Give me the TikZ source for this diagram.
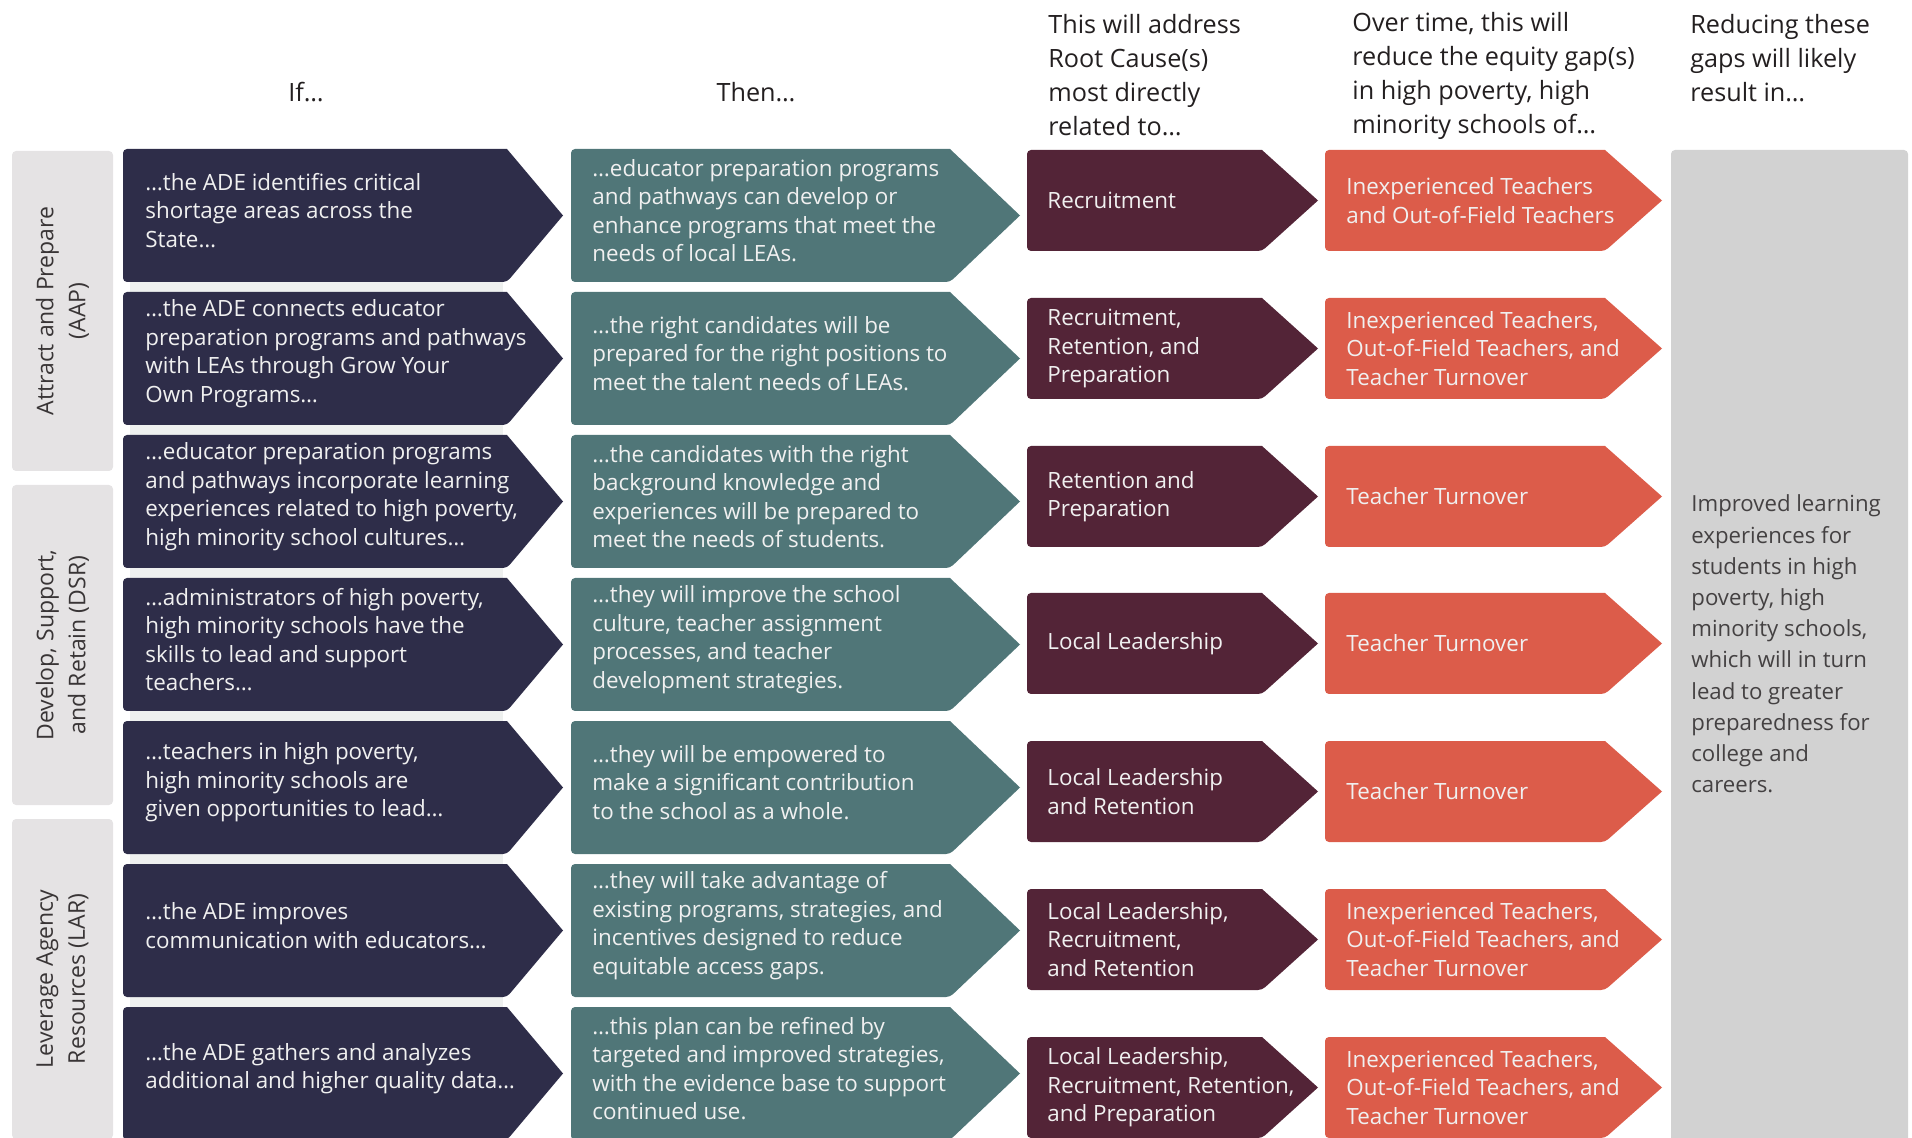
\documentclass[tikz,border=0pt]{standalone}
\usepackage{fontspec}
\setmainfont{Open Sans}
\usepackage{tikz}
\usetikzlibrary{positioning}
\definecolor{ifcolor}{RGB}{46,45,73}
\definecolor{thencolor}{RGB}{80,118,120}
\definecolor{rootcolor}{RGB}{83,36,55}
\definecolor{gapcolor}{RGB}{220,92,74}
\definecolor{resultcolor}{RGB}{210,210,210}
\definecolor{sidecolor}{RGB}{229,227,228}
\definecolor{stripcolor}{RGB}{238,240,239}
\definecolor{inkcolor}{RGB}{35,31,32}
\definecolor{boxink}{RGB}{240,240,240}

% name, colour, left, top, right, height, tip
\newcommand{\chevbox}[7]{%
  \fill[#2, rounded corners=2pt] (#5,#4) -- (#3,#4) -- (#3,#4+#6) -- (#5,#4+#6) [sharp corners] -- (#5+#7,#4+#6/2) -- cycle;
  \coordinate (#1) at (#3,#4+#6/2);}

\begin{document}
\begin{tikzpicture}[x=0.5pt,y=-0.5pt]
\tikzset{
  boxtext/.style={text=boxink, align=left, inner sep=0pt, font=\fontsize{11.2}{14.25}\selectfont},
  headtext/.style={text=inkcolor, align=left, inner sep=0pt, font=\fontsize{12.6}{17.15}\selectfont},
  side box/.style={fill=sidecolor, rounded corners=2pt, rotate=90, minimum width=160pt, minimum height=50.5pt, align=center, text=inkcolor!90, font=\fontsize{11.5}{16}\selectfont}
}
\useasboundingbox (0,0) rectangle (1912,1138);

% Headers (base = last line)
\node [headtext, anchor=base] (hif) at (306,102) {If…};
\node [headtext, anchor=base] (hthen) at (756,102) {Then…};
\node [headtext, anchor=base west] (hroot) at (1048,136) {This will address\\Root Cause(s)\\most directly\\related to…};
\node [headtext, anchor=base west] (hgap) at (1352,134) {Over time, this will\\reduce the equity gap(s)\\in high poverty, high\\minority schools of…};
\node [headtext, anchor=base west] (hresult) at (1690,102) {Reducing these\\gaps will likely\\result in…};

% Side groups
\node [side box] (aap) at (62.5,311) {Attract and Prepare\\(AAP)};
\node [side box] (dsr) at (62.5,645) {Develop, Support,\\and Retain (DSR)};
\node [side box] (lar) at (62.5,979) {Leverage Agency\\Resources (LAR)};

% Strip behind the If column
\fill [stripcolor] (130,155) rectangle (503,1138);

% If
\chevbox{if1}{ifcolor}{123}{149}{507}{133}{56}
\chevbox{if2}{ifcolor}{123}{292}{507}{133}{56}
\chevbox{if3}{ifcolor}{123}{435}{507}{133}{56}
\chevbox{if4}{ifcolor}{123}{578}{507}{133}{56}
\chevbox{if5}{ifcolor}{123}{721}{507}{133}{56}
\chevbox{if6}{ifcolor}{123}{864}{507}{133}{56}
\chevbox{if7}{ifcolor}{123}{1007}{507}{133}{56}
\node [boxtext, right=11pt of if1, yshift=2.5pt] (if1t) {…the ADE identifies critical\\shortage areas across the\\State…};
\node [boxtext, right=11pt of if2, yshift=2.5pt] (if2t) {…the ADE connects educator\\preparation programs and pathways\\with LEAs through Grow Your\\Own Programs…};
\node [boxtext, right=11pt of if3, yshift=2.5pt] (if3t) {…educator preparation programs\\and pathways incorporate learning\\experiences related to high poverty,\\high minority school cultures…};
\node [boxtext, right=11pt of if4, yshift=2.5pt] (if4t) {…administrators of high poverty,\\high minority schools have the\\skills to lead and support\\teachers…};
\node [boxtext, right=11pt of if5, yshift=2.5pt] (if5t) {…teachers in high poverty,\\high minority schools are\\given opportunities to lead…};
\node [boxtext, right=11pt of if6, yshift=2.5pt] (if6t) {…the ADE improves\\communication with educators…};
\node [boxtext, right=11pt of if7, yshift=2.5pt] (if7t) {…the ADE gathers and analyzes\\additional and higher quality data…};

% Then
\chevbox{then1}{thencolor}{571}{149}{950}{133}{70}
\chevbox{then2}{thencolor}{571}{292}{950}{133}{70}
\chevbox{then3}{thencolor}{571}{435}{950}{133}{70}
\chevbox{then4}{thencolor}{571}{578}{950}{133}{70}
\chevbox{then5}{thencolor}{571}{721}{950}{133}{70}
\chevbox{then6}{thencolor}{571}{864}{950}{133}{70}
\chevbox{then7}{thencolor}{571}{1007}{950}{133}{70}
\node [boxtext, right=10.5pt of then1, yshift=2.5pt] (then1t) {…educator preparation programs\\and pathways can develop or\\enhance programs that meet the\\needs of local LEAs.};
\node [boxtext, right=10.5pt of then2, yshift=2.5pt] (then2t) {…the right candidates will be\\prepared for the right positions to\\meet the talent needs of LEAs.};
\node [boxtext, right=10.5pt of then3, yshift=2.5pt] (then3t) {…the candidates with the right\\background knowledge and\\experiences will be prepared to\\meet the needs of students.};
\node [boxtext, right=10.5pt of then4, yshift=2.5pt] (then4t) {…they will improve the school\\culture, teacher assignment\\processes, and teacher\\development strategies.};
\node [boxtext, right=10.5pt of then5, yshift=2.5pt] (then5t) {…they will be empowered to\\make a significant contribution\\to the school as a whole.};
\node [boxtext, right=10.5pt of then6, yshift=2.5pt] (then6t) {…they will take advantage of\\existing programs, strategies, and\\incentives designed to reduce\\equitable access gaps.};
\node [boxtext, right=10.5pt of then7, yshift=2.5pt] (then7t) {…this plan can be refined by\\targeted and improved strategies,\\with the evidence base to support\\continued use.};

% Root causes
\chevbox{root1}{rootcolor}{1027}{150}{1262}{101}{56}
\chevbox{root2}{rootcolor}{1027}{298}{1262}{101}{56}
\chevbox{root3}{rootcolor}{1027}{446}{1262}{101}{56}
\chevbox{root4}{rootcolor}{1027}{593}{1262}{101}{56}
\chevbox{root5}{rootcolor}{1027}{741}{1262}{101}{56}
\chevbox{root6}{rootcolor}{1027}{889}{1262}{101}{56}
\chevbox{root7}{rootcolor}{1027}{1037}{1262}{101}{56}
\node [boxtext, right=10pt of root1] (root1t) {Recruitment};
\node [boxtext, right=10pt of root2] (root2t) {Recruitment,\\Retention, and\\Preparation};
\node [boxtext, right=10pt of root3] (root3t) {Retention and\\Preparation};
\node [boxtext, right=10pt of root4] (root4t) {Local Leadership};
\node [boxtext, right=10pt of root5] (root5t) {Local Leadership\\and Retention};
\node [boxtext, right=10pt of root6] (root6t) {Local Leadership,\\Recruitment,\\and Retention};
\node [boxtext, right=10pt of root7] (root7t) {Local Leadership,\\Recruitment, Retention,\\and Preparation};

% Equity gaps
\chevbox{gap1}{gapcolor}{1325}{150}{1605}{101}{57}
\chevbox{gap2}{gapcolor}{1325}{298}{1605}{101}{57}
\chevbox{gap3}{gapcolor}{1325}{446}{1605}{101}{57}
\chevbox{gap4}{gapcolor}{1325}{593}{1605}{101}{57}
\chevbox{gap5}{gapcolor}{1325}{741}{1605}{101}{57}
\chevbox{gap6}{gapcolor}{1325}{889}{1605}{101}{57}
\chevbox{gap7}{gapcolor}{1325}{1037}{1605}{101}{57}
\node [boxtext, right=10.5pt of gap1] (gap1t) {Inexperienced Teachers\\and Out-of-Field Teachers};
\node [boxtext, right=10.5pt of gap2] (gap2t) {Inexperienced Teachers,\\Out-of-Field Teachers, and\\Teacher Turnover};
\node [boxtext, right=10.5pt of gap3] (gap3t) {Teacher Turnover};
\node [boxtext, right=10.5pt of gap4] (gap4t) {Teacher Turnover};
\node [boxtext, right=10.5pt of gap5] (gap5t) {Teacher Turnover};
\node [boxtext, right=10.5pt of gap6] (gap6t) {Inexperienced Teachers,\\Out-of-Field Teachers, and\\Teacher Turnover};
\node [boxtext, right=10.5pt of gap7] (gap7t) {Inexperienced Teachers,\\Out-of-Field Teachers, and\\Teacher Turnover};

% Result
\fill [resultcolor, rounded corners=2pt] (1671,150) rectangle (1908,1160);
\node [headtext, anchor=west, text=inkcolor!85, font=\fontsize{11.1}{15.6}\selectfont] (result) at (1691,644) {Improved learning\\experiences for\\students in high\\poverty, high\\minority schools,\\which will in turn\\lead to greater\\preparedness for\\college and\\careers.};
\end{tikzpicture}
\end{document}
